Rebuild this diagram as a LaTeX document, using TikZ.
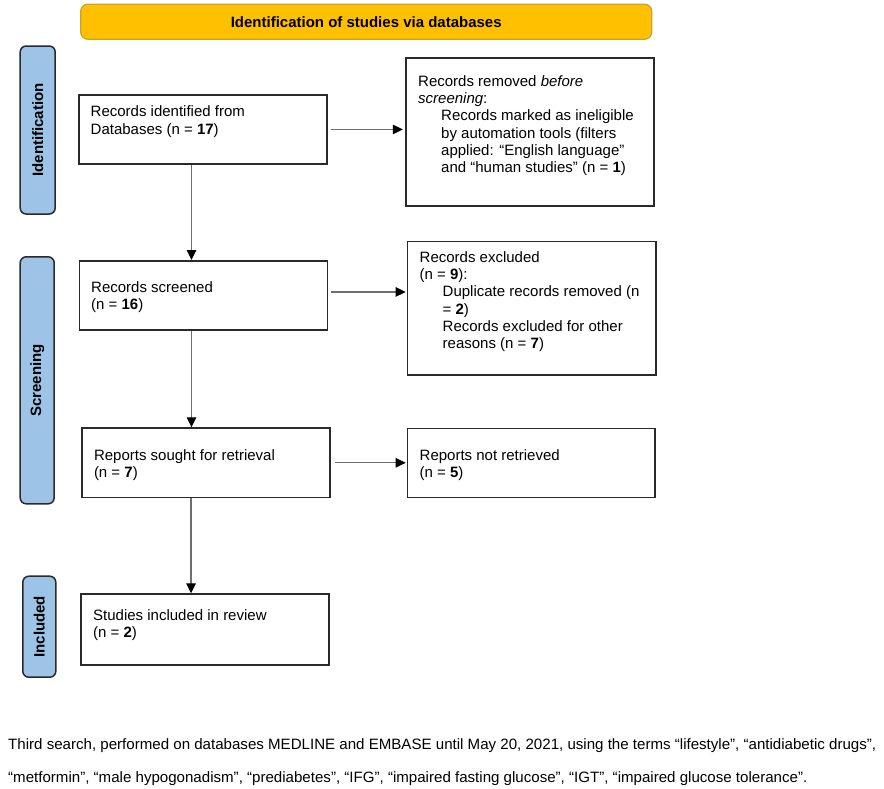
\documentclass[tikz,border=0pt]{standalone}
\usepackage{fontspec}
\setmainfont{Liberation Sans}
\usepackage{graphicx}
\usetikzlibrary{arrows.meta,calc}
\definecolor{titlefill}{HTML}{FFC000}
\definecolor{titledraw}{HTML}{C9A227}
\definecolor{sidefill}{HTML}{9DC3E6}
\definecolor{boxdraw}{HTML}{2A2A2A}
\definecolor{arrline}{HTML}{6E6E6E}
\tikzset{
  box/.style={draw=boxdraw, line width=1.6pt, fill=white, rectangle, inner sep=0pt, anchor=north west},
  txt/.style={anchor=north west, inner sep=0pt, align=left, font=\fontsize{15}{17.3}\selectfont},
  sidelabel/.style={draw=boxdraw, line width=1.5pt, fill=sidefill, rounded corners=6pt, rotate=90, inner sep=0pt, font=\fontsize{15}{17}\selectfont\bfseries},
  titlebar/.style={draw=titledraw, line width=1.2pt, fill=titlefill, rounded corners=7pt, inner sep=0pt, font=\fontsize{15}{17}\selectfont\bfseries},
  arr/.style={draw=arrline, line width=1.2pt, -{Triangle[length=10pt,width=9.5pt,color=black]}},
}
\newcommand{\fs}{\rule{0pt}{11pt}}
\newcommand{\ind}{\hspace*{23pt}}
\begin{document}
\begin{tikzpicture}[x=1pt,y=-1pt]
\useasboundingbox (0,0) rectangle (884,788);
\fill[white] (0,0) rectangle (884,788);

% title bar
\node[titlebar, minimum width=571pt, minimum height=35pt] (title) at (366.2,21.7) {Identification of studies via databases};

% side labels
\node[sidelabel, minimum width=168pt, minimum height=35pt] (sid) at (37.7,130) {Identification};
\node[sidelabel, minimum width=247pt, minimum height=34pt] (sscr) at (37.2,380.3) {Screening};
\node[sidelabel, minimum width=101pt, minimum height=33pt] (sinc) at (39.3,626.7) {Included};

% left boxes
\node[box, minimum width=248pt, minimum height=69.3pt] (b1) at (78,94) {};
\node[box, minimum width=248pt, minimum height=69.3pt] (b2) at (78.7,260) {};
\node[box, minimum width=248.3pt, minimum height=69.4pt] (b3) at (81,427.3) {};
\node[box, minimum width=248.3pt, minimum height=71pt] (b4) at (80,593.3) {};

% right boxes
\node[box, minimum width=247.7pt, minimum height=147.7pt] (r1) at (405.3,57.3) {};
\node[box, minimum width=248.3pt, minimum height=133.3pt] (r2) at (406.7,240.7) {};
\node[box, minimum width=247.6pt, minimum height=69pt] (r3) at (406.7,427.7) {};

% texts
\node[txt] (t1) at (90.5,105.7) {\fs Records identified from\\Databases (n = \textbf{17})};
\node[txt] (t2) at (91,281.3) {\fs Records screened\\(n = \textbf{16})};
\node[txt] (t3) at (93.8,449) {\fs Reports sought for retrieval\\(n = \textbf{7})};
\node[txt] (t4) at (93,609) {\fs Studies included in review\\(n = \textbf{2})};
\node[txt] (tr1) at (418,75) {\fs Records removed \textit{before}\\\textit{screening}:\\\ind Records marked as ineligible\\\ind by automation tools (filters\\\ind applied: “English language”\\\ind and “human studies” (n = \textbf{1})};
\node[txt] (tr2) at (419.5,251) {\fs Records excluded\\(n = \textbf{9}):\\\ind Duplicate records removed (n\\\ind = \textbf{2})\\\ind Records excluded for other\\\ind reasons (n = \textbf{7})};
\node[txt] (tr3) at (419.5,449) {\fs Reports not retrieved\\(n = \textbf{5})};

% connectors
\draw[arr] ([xshift=3pt]b1.east) -- ([xshift=-2.5pt]b1.east -| r1.west);
\draw[arr] ([xshift=3pt,yshift=3.5pt]b2.east) -- ([xshift=-1pt,yshift=3.5pt]b2.east -| r2.west);
\draw[arr] ([xshift=4pt]b3.east) -- ([xshift=-1pt]b3.east -| r3.west);
\draw[arr] ([xshift=-11.3pt]b1.south) -- ([xshift=-11.3pt]b1.south |- b2.north);
\draw[arr] ([xshift=-12pt]b2.south) -- ([xshift=-12pt]b2.south |- b3.north);
\draw[arr] ([xshift=-14.9pt]b3.south) -- ([xshift=-14.9pt]b3.south |- b4.north);

% caption
\node[anchor=north west, inner sep=0pt] (cap) at (8,725.9) {\fontsize{15}{33}\selectfont\resizebox{868pt}{\height}{\begin{tabular}{@{}l@{}}Third search, performed on databases MEDLINE and EMBASE until May 20, 2021, using the terms “lifestyle”, “antidiabetic drugs”,\\“metformin”, “male hypogonadism”, “prediabetes”, “IFG”, “impaired fasting glucose”, “IGT”, “impaired glucose tolerance”.\end{tabular}}};
\end{tikzpicture}
\end{document}
